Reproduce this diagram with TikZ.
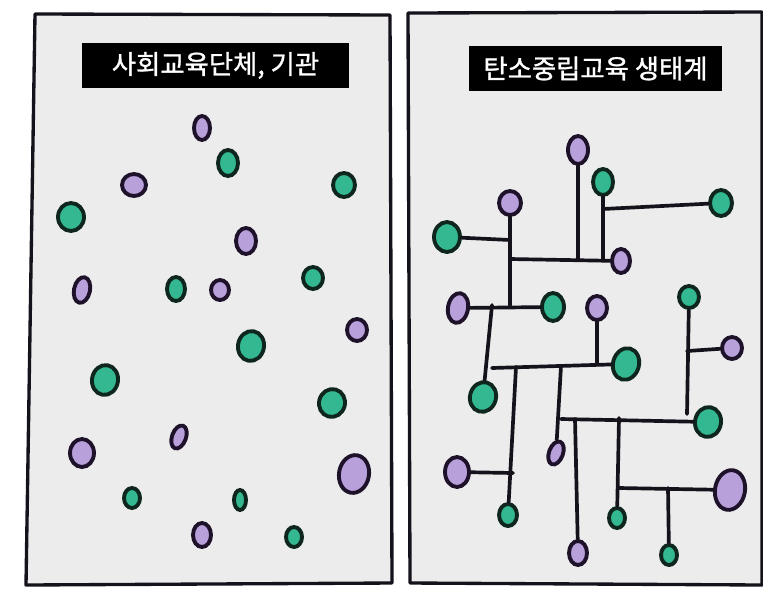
\documentclass[tikz,border=0pt]{standalone}
\usepackage{fontspec}
\usepackage{tikz}
\usetikzlibrary{shapes.geometric, positioning}
\newfontfamily\kofont[FakeBold=1.2]{Noto Sans CJK KR}
\definecolor{mydark}{RGB}{22,18,28}
\definecolor{panelgray}{RGB}{236,236,236}
\definecolor{mygreen}{RGB}{52,184,145}
\definecolor{greenedge}{RGB}{14,38,30}
\definecolor{mypurple}{RGB}{184,160,218}
\definecolor{purpleedge}{RGB}{30,18,42}
\tikzset{
  panel/.style={draw=mydark, fill=panelgray, line width=1.9pt, line join=round},
  titlebox/.style={rectangle, fill=black, text=white, inner sep=0pt,
    minimum height=0.9cm, font=\kofont\fontsize{15pt}{18pt}\selectfont},
  gdot/.style={ellipse, draw=greenedge, fill=mygreen, line width=2.2pt, inner sep=0pt},
  pdot/.style={ellipse, draw=purpleedge, fill=mypurple, line width=2.2pt, inner sep=0pt},
  sz/.style 2 args={minimum width=#1*0.04cm, minimum height=#2*0.04cm},
  link/.style={line width=2.1pt, color=mydark, line cap=round}
}

\begin{document}
\begin{tikzpicture}[x=0.02cm, y=-0.02cm]
  \useasboundingbox (0,0) rectangle (763,589);
  % panels
  \draw[panel] (35,14) -- (390,15) -- (392,583) -- (26,585) -- cycle;
  \draw[panel] (408,13) -- (762,12) -- (762,585) -- (410,583) -- cycle;

  \node[titlebox, minimum width=5.34cm] (ltitle) at (215.5,65.5) {사회교육단체, 기관};
  \node[titlebox, minimum width=5.06cm] (rtitle) at (595.5,68.5) {탄소중립교육 생태계};

  % scattered groups
  \node[pdot, sz={8}{12}] (l1) at (202,128) {};
  \node[gdot, sz={10}{13}] (l2) at (228,163) {};
  \node[pdot, sz={12}{11}] (l3) at (134,185) {};
  \node[gdot, sz={11}{12}] (l4) at (344,185) {};
  \node[gdot, sz={13}{14}] (l5) at (71,217) {};
  \node[pdot, sz={10}{13}] (l6) at (246,241) {};
  \node[gdot, sz={10}{11}] (l7) at (313,278) {};
  \node[pdot, sz={8}{13}, rotate=-12] (l8) at (82,290) {};
  \node[gdot, sz={9}{12}] (l9) at (176,289) {};
  \node[pdot, sz={9}{10}] (l10) at (220,290) {};
  \node[pdot, sz={10}{11}] (l11) at (357,330) {};
  \node[gdot, sz={13}{15}, rotate=-10] (l12) at (251,346) {};
  \node[gdot, sz={13}{15}, rotate=-10] (l13) at (105,380) {};
  \node[gdot, sz={13}{14}, rotate=-15] (l14) at (332,403) {};
  \node[pdot, sz={7}{12}, rotate=-20] (l15) at (179,437) {};
  \node[pdot, sz={12}{14}] (l16) at (82,453) {};
  \node[pdot, sz={15}{19}, rotate=-10] (l17) at (354,474) {};
  \node[gdot, sz={8}{10}] (l18) at (132,498) {};
  \node[gdot, sz={6}{10}] (l19) at (240,500) {};
  \node[pdot, sz={9}{12}] (l20) at (202,535) {};
  \node[gdot, sz={8}{10}] (l21) at (294,537) {};

  % connected ecosystem
  \node[pdot, sz={10}{14}] (r1) at (578,150) {};
  \node[gdot, sz={10}{13}] (r2) at (603,182) {};
  \node[gdot, sz={11}{13}] (r3) at (721,203) {};
  \node[pdot, sz={11}{12}] (r4) at (510,203) {};
  \node[gdot, sz={13}{15}] (r5) at (447,237) {};
  \node[pdot, sz={9}{12}] (r6) at (621,261) {};
  \node[pdot, sz={10}{15}, rotate=-10] (r7) at (458,308) {};
  \node[gdot, sz={11}{14}] (r8) at (553,307) {};
  \node[pdot, sz={10}{12}] (r9) at (597,308) {};
  \node[gdot, sz={10}{11}] (r10) at (689,297) {};
  \node[pdot, sz={10}{11}] (r11) at (732,348) {};
  \node[gdot, sz={13}{16}, rotate=-15] (r12) at (626,364) {};
  \node[gdot, sz={13}{15}, rotate=-15] (r13) at (483,397) {};
  \node[gdot, sz={13}{15}, rotate=-10] (r14) at (708,422) {};
  \node[pdot, sz={7}{12}, rotate=-20] (r15) at (556,453) {};
  \node[pdot, sz={12}{15}] (r16) at (457,472) {};
  \node[pdot, sz={15}{20}, rotate=-10] (r17) at (730,490) {};
  \node[gdot, sz={9}{11}] (r18) at (508,515) {};
  \node[gdot, sz={8}{10}] (r19) at (617,518) {};
  \node[pdot, sz={9}{12}] (r20) at (578,553) {};
  \node[gdot, sz={8}{10}] (r21) at (669,555) {};

  % junctions
  \coordinate (j1) at (510,259);
  \coordinate (j2) at (578,259);
  \coordinate (j3) at (603,259);
  \coordinate (j4) at (603,209);
  \coordinate (j5) at (510,240);
  \coordinate (j6) at (510,305);
  \coordinate (j7) at (492,305);
  \coordinate (j8) at (492,368);
  \coordinate (j9) at (597,364);
  \coordinate (j10) at (516,367);
  \coordinate (j11) at (561,366);
  \coordinate (j12) at (561,419);
  \coordinate (j13) at (687,414);
  \coordinate (j14) at (687,351);
  \coordinate (j15) at (575,419);
  \coordinate (j16) at (619,418);
  \coordinate (j17) at (619,488);
  \coordinate (j18) at (668,488);
  \coordinate (j19) at (513,473);

  \draw[link] (j1) -- (r6);
  \draw[link] (r1) -- (j2);
  \draw[link] (r2) -- (j3);
  \draw[link] (j4) -- (r3);
  \draw[link] (r4) -- (j6);
  \draw[link] (r5) -- (j5);
  \draw[link] (r7) -- (r8);
  \draw[link] (j7) -- (r13);
  \draw[link] (j8) -- (r12);
  \draw[link] (r9) -- (j9);
  \draw[link] (j10) -- (r18);
  \draw[link] (r16) -- (j19);
  \draw[link] (j11) -- (r15);
  \draw[link] (j12) -- (r14);
  \draw[link] (r10) -- (j13);
  \draw[link] (j14) -- (r11);
  \draw[link] (j15) -- (r20);
  \draw[link] (j16) -- (r19);
  \draw[link] (j17) -- (r17);
  \draw[link] (j18) -- (r21);
\end{tikzpicture}
\end{document}
